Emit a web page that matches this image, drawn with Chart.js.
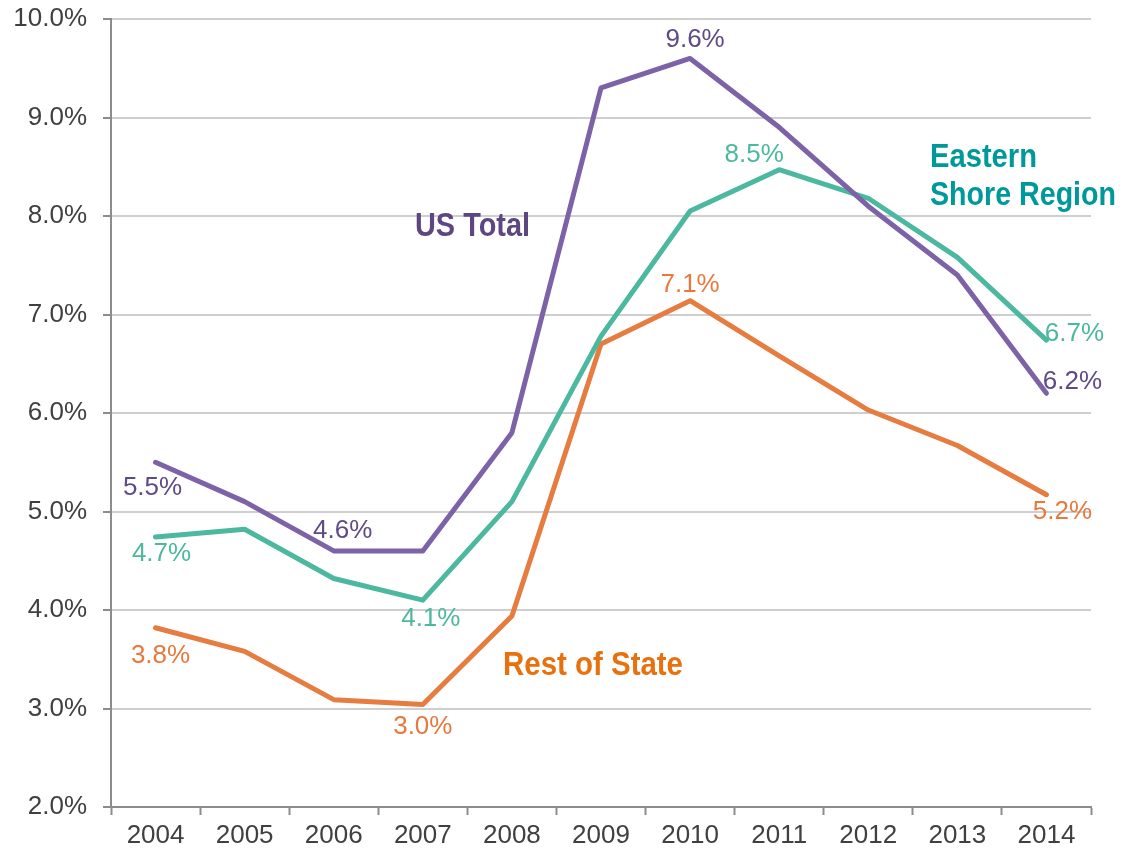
<!DOCTYPE html>
<html>
<head>
<meta charset="utf-8">
<script src="https://cdn.jsdelivr.net/npm/chart.js@4.4.1/dist/chart.umd.min.js"></script>
<style>
  html, body { margin: 0; padding: 0; background: #ffffff; }
  #wrap { width: 1121px; height: 855px; position: relative; }
</style>
</head>
<body>
<div id="wrap"><canvas id="c" width="1121" height="855"></canvas></div>
<script>
// ---- data ----
const years = ['2004','2005','2006','2007','2008','2009','2010','2011','2012','2013','2014'];
const usTotal = [5.50, 5.10, 4.60, 4.60, 5.80, 9.30, 9.60, 8.90, 8.10, 7.40, 6.20];
const easternShore = [4.74, 4.82, 4.32, 4.10, 5.10, 6.78, 8.05, 8.47, 8.18, 7.58, 6.74];
const restOfState = [3.82, 3.58, 3.09, 3.04, 3.94, 6.70, 7.14, 6.58, 6.03, 5.67, 5.17];
const yTickValues = [2, 3, 4, 5, 6, 7, 8, 9, 10];
const seriesNames = ['US Total', 'Eastern Shore Region', 'Rest of State'];

// which points carry a value label: [datasetIndex, pointIndex, dx, dy]
const valueLabels = [
  [0, 0, -3, 26], [0, 2, 9, -20], [0, 6, 5, -19], [0, 10, 26, -11],
  [1, 0, 6, 17], [1, 3, 8, 19], [1, 7, -25, -15], [1, 10, 28, -6],
  [2, 0, 5, 28], [2, 3, 0, 22], [2, 6, 0, -16], [2, 10, 16, 17]
];
// series name annotations anchored in data space: [text, xIndex, yValue, color, targetWidth]
const nameLabels = [
  ['US Total', 2.912, 7.80, '#5E4680', 115],
  ['Eastern', 8.693, 8.50, '#00999B', 107],
  ['Shore Region', 8.693, 8.11, '#00999B', 186],
  ['Rest of State', 3.900, 3.34, '#E8710F', 180]
];

const lineColors = ['#7D62A8', '#4BB89F', '#E67C3F'];
const labelColors = ['#5E4A86', '#4BB89F', '#E8793E'];

const FONT = '"Liberation Sans", Arial, sans-serif';
const NAME_FONT = 'bold 33px "Liberation Sans", Arial, sans-serif';

const labelPlugin = {
  id: 'labels',
  afterDatasetsDraw(chart) {
    const ctx = chart.ctx;
    const xs = chart.scales.x, ys = chart.scales.y;
    ctx.save();
    ctx.font = '26px ' + FONT;
    ctx.textAlign = 'center';
    ctx.textBaseline = 'middle';
    valueLabels.forEach(([di, pi, dx, dy]) => {
      const pt = chart.getDatasetMeta(di).data[pi];
      const v = chart.data.datasets[di].data[pi];
      ctx.fillStyle = labelColors[di];
      ctx.fillText(v.toFixed(1) + '%', pt.x + dx, pt.y + dy);
    });
    ctx.font = NAME_FONT;
    ctx.textAlign = 'left';
    ctx.textBaseline = 'alphabetic';
    nameLabels.forEach(([t, xi, yv, col, w]) => {
      const px = xs.getPixelForValue(xi), py = ys.getPixelForValue(yv);
      const mw = ctx.measureText(t).width;
      ctx.save();
      ctx.translate(px, py);
      ctx.scale(w / mw, 1);
      ctx.fillStyle = col;
      ctx.fillText(t, 0, 0);
      ctx.restore();
    });
    ctx.restore();
  }
};

const mk = (i, arr) => ({
  label: seriesNames[i],
  data: arr,
  borderColor: lineColors[i],
  backgroundColor: lineColors[i],
  borderWidth: 5,
  pointRadius: 0,
  pointHoverRadius: 0,
  tension: 0,
  borderJoinStyle: 'round',
  borderCapStyle: 'round',
  fill: false
});

new Chart(document.getElementById('c'), {
  type: 'line',
  data: {
    labels: years,
    datasets: [mk(0, usTotal), mk(1, easternShore), mk(2, restOfState)]
  },
  options: {
    responsive: false,
    animation: false,
    layout: { padding: { top: 19, right: 30, left: 0, bottom: 0 } },
    plugins: { legend: { display: false }, tooltip: { enabled: false } },
    scales: {
      x: {
        type: 'category',
        offset: true,
        grid: { offset: true, drawOnChartArea: false, drawTicks: true, tickLength: 8, tickColor: '#8c8c8c', tickWidth: 2 },
        border: { display: true, color: '#8c8c8c', width: 2 },
        ticks: { color: '#404040', font: { family: FONT, size: 26 }, padding: 5, maxRotation: 0, autoSkip: false },
        afterFit: s => { s.height = 48; s.paddingLeft = 0; s.paddingRight = 0; }
      },
      y: {
        min: 2, max: 10,
        afterBuildTicks: s => { s.ticks = yTickValues.map(v => ({ value: v })); },
        grid: { color: '#cfcfcf', lineWidth: 2, tickLength: 8, tickColor: '#8c8c8c', tickWidth: 2 },
        border: { display: true, color: '#8c8c8c', width: 2 },
        ticks: {
          color: '#404040', font: { family: FONT, size: 26 }, padding: 16,
          callback: v => v.toFixed(1) + '%'
        },
        afterFit: s => { s.width = 111; s.paddingTop = 0; s.paddingBottom = 0; }
      }
    }
  },
  plugins: [labelPlugin]
});
</script>
</body>
</html>
